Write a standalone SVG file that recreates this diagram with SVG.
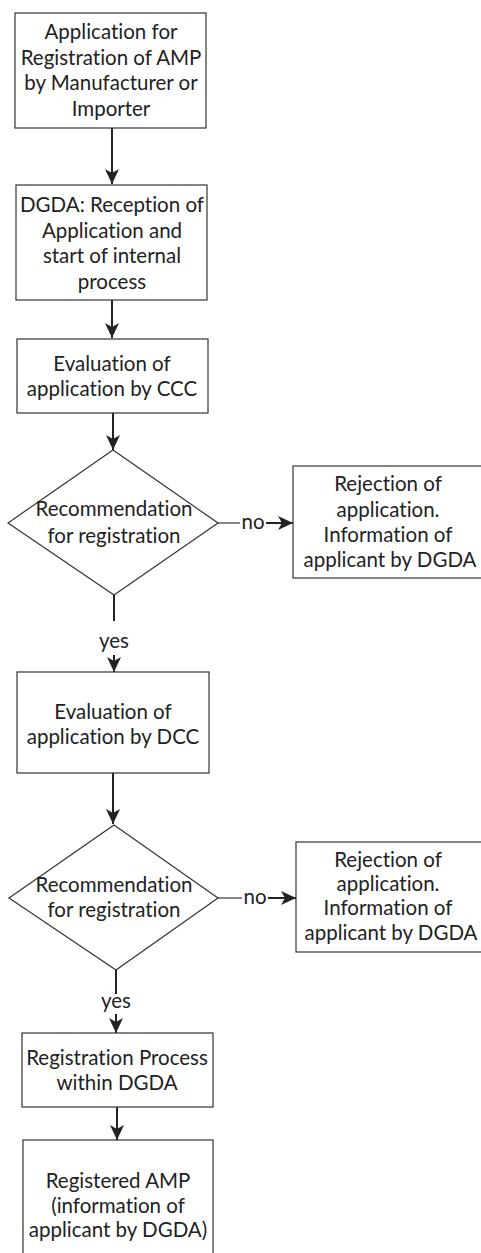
<svg xmlns="http://www.w3.org/2000/svg" width="481" height="1253" viewBox="0 0 481 1253">
<style>
.box{fill:#fff;stroke:#333;stroke-width:1.2}
.t{font-family:Lato,"Liberation Sans",sans-serif;font-size:20.5px;fill:#222;text-anchor:middle;font-variant-ligatures:none}
.c{fill:none;stroke:#222;stroke-width:2}
.thin{fill:none;stroke:#333;stroke-width:1.2}
</style>
<defs>
<marker id="ah" markerUnits="userSpaceOnUse" markerWidth="16" markerHeight="14" refX="15" refY="7" orient="auto">
<path d="M0,0 L15,7 L0,14 L4,7 Z" fill="#222"/>
</marker>
</defs>
<rect width="481" height="1253" fill="#fff"/>
<g id="connectors">
<line class="c" x1="112" y1="128" x2="112" y2="184" marker-end="url(#ah)"/>
<line class="c" x1="112" y1="300" x2="112" y2="338" marker-end="url(#ah)"/>
<line class="c" x1="113" y1="413" x2="113" y2="450" marker-end="url(#ah)"/>
<line class="c" x1="114" y1="595" x2="114" y2="621"/>
<line class="c" x1="114" y1="655" x2="114" y2="672" marker-end="url(#ah)"/>
<line class="thin" x1="217" y1="523" x2="240" y2="523"/>
<line class="c" x1="266" y1="523" x2="293" y2="523" marker-end="url(#ah)"/>
<line class="c" x1="113" y1="773" x2="113" y2="824" marker-end="url(#ah)"/>
<line class="c" x1="116" y1="970" x2="116" y2="994"/>
<line class="c" x1="116" y1="1014" x2="116" y2="1033" marker-end="url(#ah)"/>
<line class="thin" x1="218" y1="898" x2="242" y2="898"/>
<line class="c" x1="268" y1="898" x2="296" y2="898" marker-end="url(#ah)"/>
<line class="c" x1="117" y1="1107" x2="117" y2="1140" marker-end="url(#ah)"/>
<text class="t" x="114" y="648">yes</text>
<text class="t" x="253" y="529">no</text>
<text class="t" x="255" y="904">no</text>
<text class="t" x="116" y="1008">yes</text>
</g>
<g id="n1">
<rect class="box" x="15" y="13" width="191" height="115"/>
<text class="t" x="111" y="39">Application for</text>
<text class="t" x="111" y="65">Registration of AMP</text>
<text class="t" x="111" y="90">by Manufacturer or</text>
<text class="t" x="111" y="116">Importer</text>
</g>
<g id="n2">
<rect class="box" x="16" y="185" width="191" height="115"/>
<text class="t" x="112" y="212">DGDA: Reception of</text>
<text class="t" x="112" y="238">Application and</text>
<text class="t" x="112" y="263">start of internal</text>
<text class="t" x="112" y="289">process</text>
</g>
<g id="n3">
<rect class="box" x="17" y="339" width="191" height="74"/>
<text class="t" x="112" y="371">Evaluation of</text>
<text class="t" x="112" y="396">application by CCC</text>
</g>
<g id="d1">
<polygon class="box" points="113,450 218,523 114,595 8,523"/>
<text class="t" x="114" y="516">Recommendation</text>
<text class="t" x="114" y="543">for registration</text>
</g>
<g id="r1">
<rect class="box" x="293" y="466" width="200" height="112"/>
<text class="t" x="388" y="491">Rejection of</text>
<text class="t" x="388" y="517">application.</text>
<text class="t" x="388" y="542">Information of</text>
<text class="t" x="390" y="567">applicant by DGDA</text>
</g>
<g id="n4">
<rect class="box" x="17" y="672" width="192" height="101"/>
<text class="t" x="113" y="719">Evaluation of</text>
<text class="t" x="113" y="744">application by DCC</text>
</g>
<g id="d2">
<polygon class="box" points="114,825 218,898 116,970 9,898"/>
<text class="t" x="114" y="892">Recommendation</text>
<text class="t" x="114" y="917">for registration</text>
</g>
<g id="r2">
<rect class="box" x="296" y="842" width="200" height="110"/>
<text class="t" x="388" y="867">Rejection of</text>
<text class="t" x="388" y="891">application.</text>
<text class="t" x="388" y="915">Information of</text>
<text class="t" x="391" y="940">applicant by DGDA</text>
</g>
<g id="n5">
<rect class="box" x="22" y="1033" width="191" height="74"/>
<text class="t" x="117" y="1065">Registration Process</text>
<text class="t" x="117" y="1090">within DGDA</text>
</g>
<g id="n6">
<rect class="box" x="23" y="1140" width="190" height="130"/>
<text class="t" x="118" y="1188">Registered AMP</text>
<text class="t" x="118" y="1213">(information of</text>
<text class="t" x="118" y="1237">applicant by DGDA)</text>
</g>
</svg>
